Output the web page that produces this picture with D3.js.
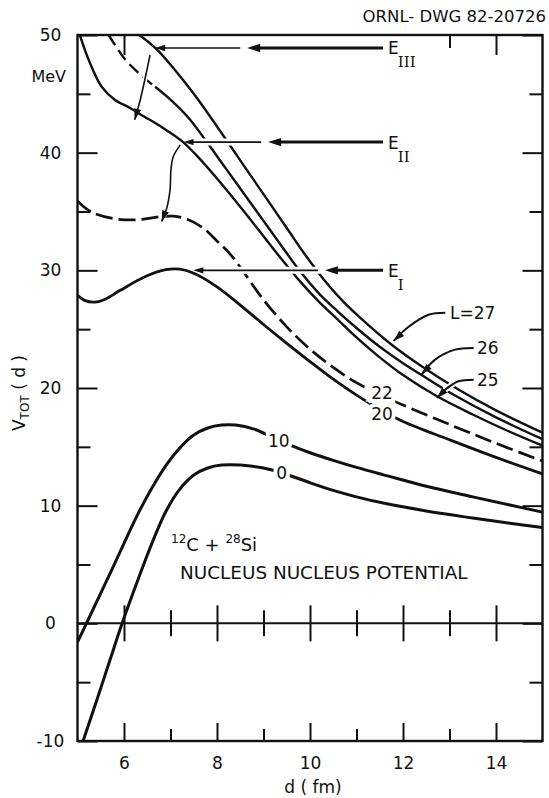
<!DOCTYPE html>
<html>
<head>
<meta charset="utf-8">
<title>12C + 28Si nucleus-nucleus potential</title>
<script src="https://cdn.jsdelivr.net/npm/d3@7/dist/d3.min.js"></script>
<style>
  html, body { margin: 0; padding: 0; background: #fff; }
  svg { display: block; }
  text { font-family: "DejaVu Sans", "Noto Sans", sans-serif; fill: #111; }
</style>
</head>
<body>
<svg id="chart" width="549" height="798"></svg>
<script>
// Total potential V_TOT(d) (MeV) versus separation d (fm) for several partial waves L
const xTickLabels = [6, 8, 10, 12, 14];
const yTickLabels = [50, 40, 30, 20, 10, 0, -10];

const curveL0 = [[5.12,-10],[5.4,-6.7],[5.7,-3.1],[5.96,0],[6.3,3.7],[6.6,6.8],[6.9,9.5],[7.2,11.4],
  [7.5,12.6],[7.8,13.2],[8.1,13.45],[8.5,13.45],[9.0,13.2],[9.5,12.65],[10.0,11.95],[10.5,11.3],
  [11.0,10.75],[11.6,10.2],[12.5,9.55],[13.5,8.95],[14.3,8.5],[15,8.15]];
const curveL10 = [[5,-1.6],[5.3,0.9],[5.66,3.9],[6.0,6.8],[6.3,9.3],[6.6,11.5],[6.9,13.4],[7.2,14.9],
  [7.5,16.0],[7.8,16.6],[8.1,16.85],[8.4,16.85],[8.8,16.5],[9.2,15.8],[9.6,15.1],[10.0,14.5],
  [10.5,13.85],[11.0,13.25],[11.6,12.6],[12.5,11.65],[13.5,10.75],[14.3,10.05],[15,9.45]];
const curveL20 = [[5,27.87],[5.15,27.45],[5.38,27.3],[5.6,27.55],[5.92,28.3],[6.45,29.45],[6.9,30.05],
  [7.2,30.1],[7.5,29.75],[8.0,28.6],[8.5,27.05],[9.0,25.4],[9.5,23.8],[10.0,22.25],[10.5,20.75],
  [11.0,19.4],[11.5,18.2],[12.0,17.15],[13.0,15.6],[14.0,14.1],[15,12.7]];
const curveL22 = [[5,35.9],[5.28,35.0],[5.77,34.4],[6.3,34.3],[6.76,34.55],[7.06,34.6],[7.36,34.35],
  [7.7,33.6],[8.0,32.5],[8.3,31.3],[8.6,29.7],[9.0,27.5],[9.5,25.2],[10.0,23.3],[10.5,21.75],
  [11.0,20.45],[11.55,19.35],[12.0,18.55],[13.0,16.9],[14.0,15.3],[15,13.8]];
const curveL25 = [[5.05,50],[5.25,47.8],[5.52,45.6],[5.8,44.5],[6.13,43.8],[6.42,43.1],[6.8,42.2],
  [7.24,41.0],[7.6,39.6],[8.0,37.8],[8.5,35.4],[9.0,32.9],[9.4,30.9],[9.8,29.0],[10.2,27.3],
  [10.6,25.8],[11.0,24.3],[11.5,22.6],[12.0,21.1],[12.73,19.3],[13.5,17.75],[14.2,16.45],[15,15.1]];
const curveL26 = [[5.67,50],[6.03,47.9],[6.42,46.4],[6.67,45.6],[7.0,44.5],[7.4,42.9],[7.8,40.8],
  [8.2,38.6],[8.6,36.4],[9.0,34.2],[9.4,32.0],[9.8,29.85],[10.2,28.0],[10.6,26.5],[11.0,25.1],
  [11.5,23.5],[12.0,22.1],[12.4,21.1],[13.1,19.4],[14.0,17.5],[15,15.65]];
const curveL27 = [[6.33,50],[6.7,48.8],[7.1,47.0],[7.5,45.0],[7.9,42.8],[8.3,40.5],[8.7,38.2],
  [9.1,35.9],[9.5,33.6],[9.9,31.3],[10.3,29.2],[10.7,27.4],[11.1,25.9],[11.75,23.7],[12.4,21.85],
  [13.2,19.85],[14.0,18.1],[15,16.2]];

// Barrier energies E_I, E_II, E_III (MeV)
const levelNames = ["III", "II", "I"];
const levelEnergies = [48.9, 40.9, 30.0];

// ---------------------------------------------------------------------------
const frame = { left: 77.5, right: 542.5, top: 35, bottom: 741 };
const x = d3.scaleLinear().domain([5, 15]).range([frame.left, frame.right]);
const y = d3.scaleLinear().domain([-10, 50]).range([frame.bottom, frame.top]);
const ink = "#111";
const svg = d3.select("#chart");

svg.append("defs").append("clipPath").attr("id", "plotArea")
  .append("rect")
  .attr("x", frame.left).attr("y", frame.top)
  .attr("width", frame.right - frame.left).attr("height", frame.bottom - frame.top);

const line = d3.line().x(p => x(p[0])).y(p => y(p[1])).curve(d3.curveCatmullRom.alpha(0.5));

// curves
const series = [
  { pts: curveL0,  w: 3.0 },
  { pts: curveL10, w: 3.0 },
  { pts: curveL20, w: 2.8 },
  { pts: curveL22, w: 2.7, dash: "17,6" },
  { pts: curveL25, w: 2.4 },
  { pts: curveL26.filter(p => p[0] <= 6.67), w: 2.4, dash: "12,6" },
  { pts: curveL26.filter(p => p[0] >= 6.67), w: 2.4 },
  { pts: curveL27, w: 2.4 }
];
const plot = svg.append("g").attr("clip-path", "url(#plotArea)");
plot.selectAll("path.curve").data(series).join("path")
  .attr("class", "curve")
  .attr("d", s => line(s.pts))
  .attr("fill", "none")
  .attr("stroke", ink)
  .attr("stroke-width", s => s.w)
  .attr("stroke-dasharray", s => s.dash || null);

// labels written into gaps of the curves
const inlineLabels = [
  { t: "0",  d: 9.39,  v: 12.75 },
  { t: "10", d: 9.33,  v: 15.5 },
  { t: "20", d: 11.55, v: 17.8 },
  { t: "22", d: 11.55, v: 19.6 }
];
svg.selectAll("text.inl").data(inlineLabels).join("text")
  .attr("class", "inl")
  .attr("x", l => x(l.d)).attr("y", l => y(l.v))
  .attr("text-anchor", "middle").attr("dominant-baseline", "central")
  .attr("font-size", 17)
  .attr("stroke", "#fff").attr("stroke-width", 8).attr("paint-order", "stroke")
  .text(l => l.t);

// arrow helpers
const ann = svg.append("g");
function head(tip, from, len, half) {
  const dx = tip[0] - from[0], dy = tip[1] - from[1], n = Math.hypot(dx, dy);
  const ux = dx / n, uy = dy / n;
  const bx = tip[0] - ux * len, by = tip[1] - uy * len;
  ann.append("path")
    .attr("d", `M${tip[0]},${tip[1]}L${bx - uy * half},${by + ux * half}L${bx + uy * half},${by - ux * half}Z`)
    .attr("fill", ink);
}
const smooth = d3.line().curve(d3.curveCatmullRom.alpha(0.5));
function curvedArrow(ptsData, w, halo) {
  const px = ptsData.map(p => [x(p[0]), y(p[1])]);
  const n = px.length;
  const cut = [px[n - 1][0] * 0.6 + px[n - 2][0] * 0.4, px[n - 1][1] * 0.6 + px[n - 2][1] * 0.4];
  ann.append("path").attr("d", smooth(px.slice(0, -1).concat([cut])))
    .attr("fill", "none").attr("stroke", "#fff").attr("stroke-width", halo);
  ann.append("path").attr("d", smooth(px))
    .attr("fill", "none").attr("stroke", ink).attr("stroke-width", w);
  head(px[n - 1], px[n - 2], 11, 3.6);
}

// horizontal energy arrows
const levelLayout = [
  { tip: 6.67, mid: 8.65 },
  { tip: 7.28, mid: 9.10 },
  { tip: 7.49, mid: 10.32 }
];
const shaftEnd = x(11.57);
levelEnergies.forEach((e, i) => {
  const yy = y(e), tipX = x(levelLayout[i].tip), midX = x(levelLayout[i].mid);
  ann.append("line").attr("x1", tipX + 10).attr("x2", shaftEnd).attr("y1", yy).attr("y2", yy)
    .attr("stroke", "#fff").attr("stroke-width", 7);
  ann.append("line").attr("x1", tipX + 4).attr("x2", midX - 7).attr("y1", yy).attr("y2", yy)
    .attr("stroke", ink).attr("stroke-width", 1.6);
  head([tipX, yy], [tipX + 10, yy], 10, 3.2);
  head([midX, yy], [midX + 10, yy], 13, 4.2);
  ann.append("line").attr("x1", midX + 8).attr("x2", shaftEnd).attr("y1", yy).attr("y2", yy)
    .attr("stroke", ink).attr("stroke-width", 3);
  const t = svg.append("text").attr("x", x(11.68)).attr("y", yy + 6.5).attr("font-size", 17);
  t.append("tspan").text("E");
  t.append("tspan").attr("dx", -1).attr("dy", 13)
    .attr("font-family", '"DejaVu Serif", serif').attr("font-size", 15)
    .text(levelNames[i]);
});

// curved arrows from the barrier tops
curvedArrow([[6.56,48.3],[6.47,46.6],[6.35,44.5],[6.23,42.8]], 1.6, 5);
curvedArrow([[7.21,40.66],[7.06,39.67],[7.01,38.54],[6.99,36.84],[6.92,35.29],[6.81,34.15]], 1.6, 5);

// pointers from the L labels
curvedArrow([[12.91,26.4],[12.55,26.23],[12.12,25.2],[11.8,24.0]], 2, 6);
curvedArrow([[13.52,23.4],[13.12,23.26],[12.69,22.41],[12.4,21.14]], 2, 6);
curvedArrow([[13.52,20.71],[13.19,20.57],[12.91,19.86],[12.73,19.16]], 2, 6);

const pointerLabels = [
  { t: "L=27", d: 13.01, v: 26.4 },
  { t: "26",   d: 13.59, v: 23.4 },
  { t: "25",   d: 13.59, v: 20.7 }
];
svg.selectAll("text.ptr").data(pointerLabels).join("text")
  .attr("class", "ptr")
  .attr("x", l => x(l.d)).attr("y", l => y(l.v))
  .attr("dominant-baseline", "central").attr("font-size", 17)
  .text(l => l.t);

// frame, ticks and zero line
svg.append("rect")
  .attr("x", frame.left).attr("y", frame.top)
  .attr("width", frame.right - frame.left).attr("height", frame.bottom - frame.top)
  .attr("fill", "none").attr("stroke", ink).attr("stroke-width", 2.4);

function styleAxis(g) {
  g.attr("font-family", '"DejaVu Sans", sans-serif').attr("font-size", 17);
  g.select(".domain").remove();
  g.selectAll(".tick line").attr("stroke", ink).attr("stroke-width", 2);
  g.selectAll(".tick text").attr("fill", ink);
}
const majorY = yTickLabels, minorY = d3.range(-5, 50, 10);
const majorX = xTickLabels, minorX = [7, 9, 11, 13];

svg.append("g").attr("transform", `translate(${frame.left},0)`)
  .call(d3.axisLeft(y).tickValues(majorY).tickFormat(d => String(d))
    .tickSizeInner(-20).tickSizeOuter(0).tickPadding(27))
  .call(styleAxis)
  .call(g => g.selectAll(".tick text").attr("text-anchor", "middle"));
svg.append("g").attr("transform", `translate(${frame.left},0)`)
  .call(d3.axisLeft(y).tickValues(minorY).tickFormat("").tickSizeInner(-13).tickSizeOuter(0))
  .call(styleAxis);
svg.append("g").attr("transform", `translate(${frame.right},0)`)
  .call(d3.axisRight(y).tickValues(majorY).tickFormat("").tickSizeInner(-20).tickSizeOuter(0))
  .call(styleAxis);
svg.append("g").attr("transform", `translate(${frame.right},0)`)
  .call(d3.axisRight(y).tickValues(minorY).tickFormat("").tickSizeInner(-13).tickSizeOuter(0))
  .call(styleAxis);

svg.append("g").attr("transform", `translate(0,${frame.bottom})`)
  .call(d3.axisBottom(x).tickValues(majorX).tickFormat(d => String(d))
    .tickSizeInner(-18).tickSizeOuter(0).tickPadding(16))
  .call(styleAxis);
svg.append("g").attr("transform", `translate(0,${frame.bottom})`)
  .call(d3.axisBottom(x).tickValues(minorX).tickFormat("").tickSizeInner(-12).tickSizeOuter(0))
  .call(styleAxis);
svg.append("g").attr("transform", `translate(0,${frame.top})`)
  .call(d3.axisTop(x).tickValues([6, 14]).tickFormat("").tickSizeInner(-20).tickSizeOuter(0))
  .call(styleAxis);
svg.append("g").attr("transform", `translate(0,${frame.top})`)
  .call(d3.axisTop(x).tickValues([13]).tickFormat("").tickSizeInner(-13).tickSizeOuter(0))
  .call(styleAxis);

const zero = svg.append("g").attr("transform", `translate(0,${y(0)})`);
zero.append("line").attr("x1", frame.left).attr("x2", frame.right)
  .attr("stroke", ink).attr("stroke-width", 2);
[[majorX, 18], [minorX, 13]].forEach(([vals, len]) => {
  zero.append("g").call(d3.axisTop(x).tickValues(vals).tickFormat("").tickSizeInner(len).tickSizeOuter(0)).call(styleAxis);
  zero.append("g").call(d3.axisBottom(x).tickValues(vals).tickFormat("").tickSizeInner(len).tickSizeOuter(0)).call(styleAxis);
});

// titles and notes
svg.append("text").attr("x", 313).attr("y", 793).attr("text-anchor", "middle")
  .attr("font-size", 17).text("d ( fm)");
const yt = svg.append("text").attr("transform", "translate(25,393) rotate(-90)")
  .attr("text-anchor", "middle").attr("font-size", 17);
yt.append("tspan").text("V");
yt.append("tspan").attr("font-size", 12).attr("dy", 4).text("TOT");
yt.append("tspan").attr("dy", -4).text(" ( d )");

svg.append("text").attr("x", 66).attr("y", 82).attr("text-anchor", "end")
  .attr("font-size", 16).text("MeV");
svg.append("text").attr("x", 546).attr("y", 22).attr("text-anchor", "end")
  .attr("font-size", 16.5).text("ORNL- DWG 82-20726");

const sys = svg.append("text").attr("x", 171).attr("y", 551).attr("font-size", 18);
sys.append("tspan").attr("font-size", 12).attr("dy", -8).text("12");
sys.append("tspan").attr("dy", 8).text("C + ");
sys.append("tspan").attr("font-size", 12).attr("dy", -8).text("28");
sys.append("tspan").attr("dy", 8).text("Si");
svg.append("text").attr("x", 180).attr("y", 579).attr("font-size", 18.4)
  .text("NUCLEUS NUCLEUS POTENTIAL");
</script>
</body>
</html>
